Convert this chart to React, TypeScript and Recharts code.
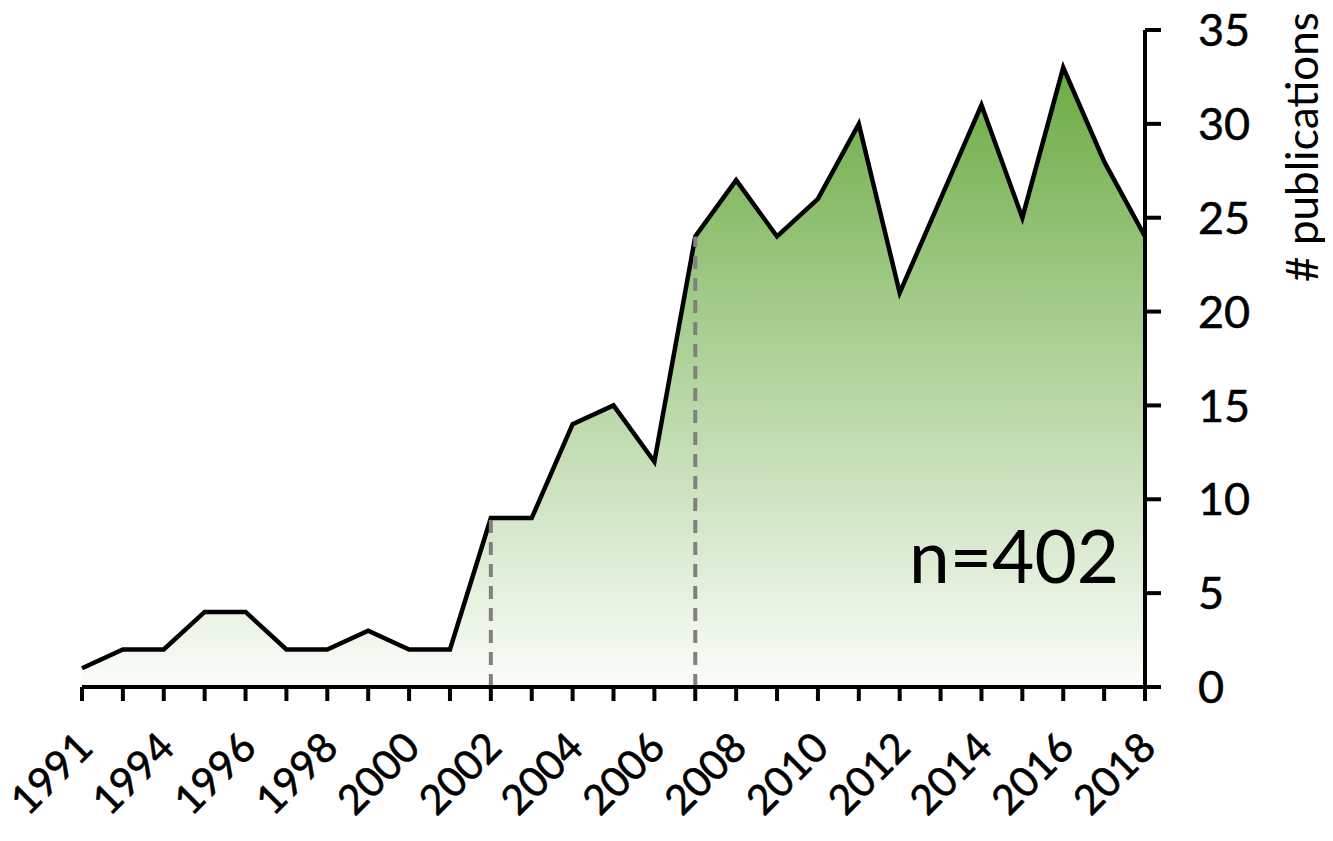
import React from 'react';
import { AreaChart, Area, XAxis, YAxis, ReferenceLine } from 'recharts';

const years = ['1991','1992','1994','1995','1996','1997','1998','1999','2000','2001','2002','2003','2004','2005','2006','2007','2008','2009','2010','2011','2012','2013','2014','2015','2016','2017','2018'];
const publications = [1,2,2,4,4,2,2,3,2,2,9,9,14,15,12,24,27,24,26,30,21,26,31,25,33,28,24];
const yTicks = [0,5,10,15,20,25,30,35];
const markerYears = ['2002','2007'];
const totalLabel = 'n=402';
const yTitle = '# publications';

const data = years.map((y, i) => ({ year: y, value: publications[i] }));
const FONT = 'Lato, "Open Sans", sans-serif';

const XTick = (props: any) => {
  const { x, y, payload, index } = props;
  if (index % 2 !== 0) return <g />;
  const ax = x + 13;
  const ay = y + 47;
  return (
    <text x={ax} y={ay} transform={`rotate(-45, ${ax}, ${ay})`} textAnchor="end" fontSize={41} fontFamily={FONT} fill="#000" stroke="#000" strokeWidth={0.6}>
      {payload.value}
    </text>
  );
};

const YTick = (props: any) => {
  const { x, y, payload } = props;
  return (
    <text x={x} y={y} dy="0.36em" textAnchor="start" fontSize={45} fontFamily={FONT} fill="#000" stroke="#000" strokeWidth={0.5}>
      {payload.value}
    </text>
  );
};

export default function App() {
  return (
    <div style={{ position: 'relative', width: 1325, height: 825 }}>
      <AreaChart width={1325} height={825} data={data} margin={{ top: 22, right: 0, left: 74, bottom: 0 }}>
        <defs>
          <linearGradient id="greenFill" x1="0" y1="0" x2="0" y2="1">
            <stop offset="0%" stopColor="#6cab44" />
            <stop offset="100%" stopColor="#fbfdfa" />
          </linearGradient>
        </defs>
        <XAxis
          dataKey="year"
          interval={0}
          height={146}
          stroke="#000"
          strokeWidth={4}
          axisLine={{ stroke: '#000', strokeWidth: 4 }}
          tickLine={{ stroke: '#000', strokeWidth: 4 }}
          tickSize={14}
          tickMargin={2}
          tick={<XTick />}
        />
        <YAxis
          orientation="right"
          domain={[0, 35]}
          ticks={yTicks}
          width={188}
          stroke="#000"
          strokeWidth={4}
          axisLine={{ stroke: '#000', strokeWidth: 4 }}
          tickLine={{ stroke: '#000', strokeWidth: 4 }}
          tickSize={16}
          tickMargin={37}
          tick={<YTick />}
          label={{
            content: () => (
              <text x={1310} y={139} transform="rotate(-90, 1310, 139)" textAnchor="middle" fontSize={44} fontFamily={FONT} fill="#000">
                {yTitle}
              </text>
            ),
          }}
        />
        <Area
          type="linear"
          dataKey="value"
          stroke="#000"
          strokeWidth={4.5}
          strokeLinejoin="miter"
          fill="url(#greenFill)"
          fillOpacity={1}
          isAnimationActive={false}
          dot={false}
          activeDot={false}
        />
        {markerYears.map((yr) => (
          <ReferenceLine
            key={yr}
            segment={[{ x: yr, y: 0 }, { x: yr, y: publications[years.indexOf(yr)] }]}
            stroke="#808080"
            strokeWidth={4}
            strokeDasharray="13 9"
            ifOverflow="visible"
          />
        ))}
      </AreaChart>
      <svg width={1325} height={825} style={{ position: 'absolute', left: 0, top: 0, pointerEvents: 'none' }}>
        <text x={901} y={575} fontSize={73} fontFamily={FONT} fill="#000">{totalLabel}</text>
      </svg>
    </div>
  );
}
